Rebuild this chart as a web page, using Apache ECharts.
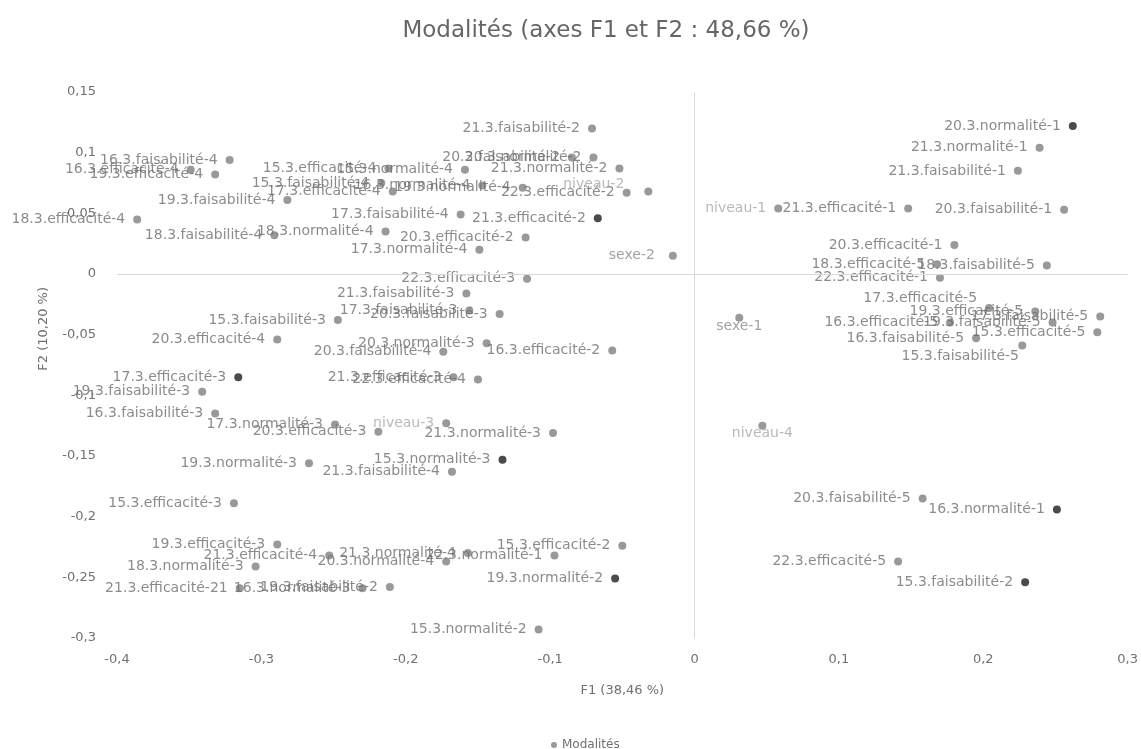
<!DOCTYPE html>
<html>
<head>
<meta charset="utf-8">
<script src="https://cdn.jsdelivr.net/npm/echarts@6/dist/echarts.min.js"></script>
<style>
html,body{margin:0;padding:0;background:#fff;}
#chart{width:1141px;height:749px;}
</style>
</head>
<body>
<div id="chart"></div>
<script>
// Category names (modalités)
const categories = [
  "20.3.normalité-1","21.3.normalité-1","21.3.faisabilité-1","niveau-1","21.3.efficacité-1","20.3.faisabilité-1",
  "20.3.efficacité-1","18.3.efficacité-5","18.3.faisabilité-5","22.3.efficacité-1","17.3.efficacité-5","19.3.efficacité-5",
  "16.3.efficacité-5","19.3.faisabilité-5","17.3.faisabilité-5","16.3.faisabilité-5","15.3.efficacité-5","15.3.faisabilité-5",
  "sexe-1","niveau-4","20.3.faisabilité-5","16.3.normalité-1","22.3.efficacité-5","15.3.faisabilité-2",
  "21.3.faisabilité-2","20.3.faisabilité-2","20.3.normalité-2","21.3.normalité-2","15.3.normalité-4","15.3.efficacité-4",
  "16.3.faisabilité-4","16.3.efficacité-4","19.3.efficacité-4","15.3.faisabilité-4","16.3.normalité-4","17.3.efficacité-4",
  "19.3.normalité-4","22.3.efficacité-2","niveau-2","19.3.faisabilité-4","18.3.efficacité-4","17.3.faisabilité-4",
  "21.3.efficacité-2","18.3.faisabilité-4","18.3.normalité-4","20.3.efficacité-2","17.3.normalité-4","sexe-2",
  "22.3.efficacité-3","21.3.faisabilité-3","17.3.faisabilité-3","20.3.faisabilité-3","15.3.faisabilité-3","20.3.efficacité-4",
  "20.3.normalité-3","20.3.faisabilité-4","16.3.efficacité-2","21.3.efficacité-3","22.3.efficacité-4","17.3.efficacité-3",
  "19.3.faisabilité-3","16.3.faisabilité-3","17.3.normalité-3","20.3.efficacité-3","niveau-3","21.3.normalité-3",
  "15.3.normalité-3","19.3.normalité-3","21.3.faisabilité-4","15.3.efficacité-3","19.3.efficacité-3","15.3.efficacité-2",
  "21.3.efficacité-4","21.3.normalité-4","20.3.normalité-4","22.3.normalité-1","18.3.normalité-3","19.3.normalité-2",
  "21.3.efficacité-21","16.3.normalité-3","19.3.faisabilité-2","15.3.normalité-2"
];
// F1 coordinates
const f1 = [
  0.262,0.239,0.224,0.058,0.148,0.256,
  0.180,0.168,0.244,0.170,0.204,0.236,
  0.177,0.248,0.281,0.195,0.279,0.227,
  0.031,0.047,0.158,0.251,0.141,0.229,
  -0.071,-0.085,-0.070,-0.052,-0.159,-0.212,
  -0.322,-0.349,-0.332,-0.217,-0.147,-0.209,
  -0.119,-0.047,-0.032,-0.282,-0.386,-0.162,
  -0.067,-0.291,-0.214,-0.117,-0.149,-0.015,
  -0.116,-0.158,-0.156,-0.135,-0.247,-0.289,
  -0.144,-0.174,-0.057,-0.167,-0.150,-0.316,
  -0.341,-0.332,-0.249,-0.219,-0.172,-0.098,
  -0.133,-0.267,-0.168,-0.319,-0.289,-0.050,
  -0.253,-0.157,-0.172,-0.097,-0.304,-0.055,
  -0.315,-0.230,-0.211,-0.108
];
// F2 coordinates
const f2 = [
  0.122,0.104,0.085,0.054,0.054,0.053,
  0.024,0.008,0.007,-0.003,-0.028,-0.031,
  -0.040,-0.040,-0.035,-0.053,-0.048,-0.059,
  -0.036,-0.125,-0.185,-0.194,-0.237,-0.254,
  0.120,0.096,0.096,0.087,0.086,0.087,
  0.094,0.086,0.082,0.075,0.073,0.068,
  0.071,0.067,0.068,0.061,0.045,0.049,
  0.046,0.032,0.035,0.030,0.020,0.015,
  -0.004,-0.016,-0.030,-0.033,-0.038,-0.054,
  -0.057,-0.064,-0.063,-0.085,-0.087,-0.085,
  -0.097,-0.115,-0.124,-0.130,-0.123,-0.131,
  -0.153,-0.156,-0.163,-0.189,-0.223,-0.224,
  -0.232,-0.230,-0.237,-0.232,-0.241,-0.251,
  -0.259,-0.259,-0.258,-0.293
];
// Highlighted (dark) modalités
const darkPoints = ["20.3.normalité-1","16.3.normalité-1","15.3.faisabilité-2","21.3.efficacité-2",
  "17.3.efficacité-3","15.3.normalité-3","19.3.normalité-2"];
// Axis tick values
const xTicks = [-0.4,-0.3,-0.2,-0.1,0,0.1,0.2,0.3];
const yTicks = [-0.3,-0.25,-0.2,-0.15,-0.1,-0.05,0,0.05,0.1,0.15];

const FONT = 'DejaVu Sans';
const fmt = v => String(Math.round(v*100)/100).replace('.', ',');
const lightLabels = ["niveau-1","niveau-2","niveau-3","niveau-4"];
const midLabels = ["sexe-1","sexe-2"];
// label placement tweaks (style only)
const belowLabels = {"sexe-1":[0,9],"niveau-4":[0,8],"15.3.faisabilité-5":[-62,11]};
const shiftedLabels = {"niveau-2":[-12,-7],"17.3.efficacité-5":[0,-10],"sexe-2":[-6,0]};

const data = categories.map((n,i)=>{
  const item = {name:n, value:[f1[i], f2[i]]};
  if (darkPoints.includes(n)) item.itemStyle = {color:'#1e1e1e'};
  const lab = {};
  if (lightLabels.includes(n)) lab.color = '#a8a8a8';
  else if (midLabels.includes(n)) lab.color = '#8a8a8a';
  if (belowLabels[n]) { lab.position = 'inside'; lab.offset = belowLabels[n]; }
  if (shiftedLabels[n]) { lab.offset = shiftedLabels[n]; }
  item.label = lab;
  return item;
});

const chart = echarts.init(document.getElementById('chart'), null, {renderer:'canvas'});
chart.setOption({
  animation:false,
  backgroundColor:'#fff',
  title:{
    text:'Modalités (axes F1 et F2 : 48,66 %)',
    left:601, top:15, textAlign:'center',
    textStyle:{fontFamily:FONT, fontSize:23, fontWeight:'normal', color:'#666'}
  },
  legend:{
    data:['Modalités'], left:546, top:734, icon:'circle', itemWidth:6, itemHeight:6, itemGap:3,
    textStyle:{fontFamily:FONT, fontSize:12, color:'#707070'}
  },
  grid:{left:117, right:13, top:92, bottom:111, containLabel:false},
  xAxis:{
    type:'value', min:xTicks[0], max:xTicks[xTicks.length-1], interval:0.1,
    name:'F1 (38,46 %)', nameLocation:'middle', nameGap:46,
    nameTextStyle:{fontFamily:FONT, fontSize:13, color:'#707070'},
    axisLine:{show:false, onZero:false}, axisTick:{show:false}, splitLine:{show:false},
    axisLabel:{margin:15, fontFamily:FONT, fontSize:13, color:'#707070', formatter:fmt}
  },
  yAxis:{
    type:'value', min:yTicks[0], max:yTicks[yTicks.length-1], interval:0.05,
    axisLine:{show:false, onZero:false}, axisTick:{show:false}, splitLine:{show:false},
    axisLabel:{margin:21, fontFamily:FONT, fontSize:13, color:'#707070', formatter:fmt}
  },
  graphic:[{
    type:'text', left:37, top:287, rotation:Math.PI/2,
    style:{text:'F2 (10,20 %)', font:'13px "DejaVu Sans"', fill:'#707070'}
  }],
  series:[{
    name:'Modalités', type:'scatter', symbol:'circle', symbolSize:8,
    itemStyle:{color:'#808080'},
    label:{show:true, position:'left', distance:8, formatter:'{b}',
      fontFamily:FONT, fontSize:14, color:'#6e6e6e'},
    markLine:{
      silent:true, symbol:'none', label:{show:false},
      lineStyle:{color:'#d9d9d9', width:1, type:'solid'},
      data:[{xAxis:0},{yAxis:0}]
    },
    data:data
  }]
});
</script>
</body>
</html>
